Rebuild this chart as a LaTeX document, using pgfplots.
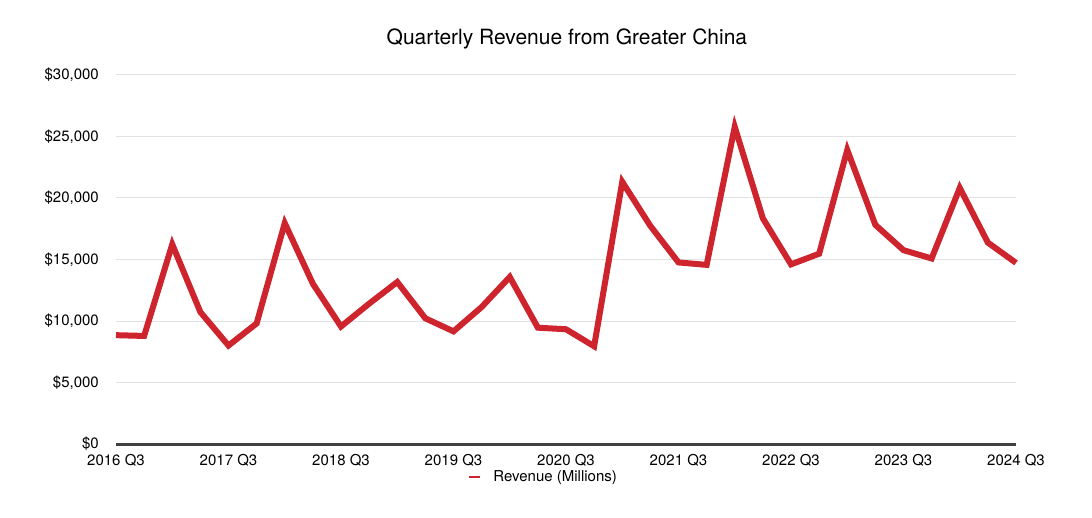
\documentclass[border=0pt]{standalone}
\usepackage{fontspec}
\setmainfont{TeX Gyre Heros}
\usepackage{pgfplots}
\pgfplotsset{compat=1.18}
\definecolor{revred}{RGB}{206,36,46}
\definecolor{gridgray}{RGB}{226,226,226}
\definecolor{axisgray}{RGB}{64,64,64}
\begin{document}
\begin{tikzpicture}[x=1pt,y=1pt]
\useasboundingbox (0,0) rectangle (1092,517);
\begin{axis}[
  at={(116pt,73pt)}, anchor=south west,
  scale only axis, width=900pt, height=369pt,
  xmin=0, xmax=32, ymin=0, ymax=30000,
  scaled y ticks=false,
  axis x line*=bottom, axis y line*=left,
  x axis line style={-, draw=axisgray, line width=3pt},
  y axis line style={draw=none},
  ymajorgrids, grid style={gridgray, line width=1pt},
  major tick length=0pt,
  xtick={0,4,...,32},
  xticklabels={2016 Q3,2017 Q3,2018 Q3,2019 Q3,2020 Q3,2021 Q3,2022 Q3,2023 Q3,2024 Q3},
  ytick={0,5000,...,30000},
  yticklabels={{\$0},{\$5,000},{\$10,000},{\$15,000},{\$20,000},{\$25,000},{\$30,000}},
  ticklabel style={font=\fontsize{15}{18}\selectfont, inner sep=0pt},
  xticklabel style={anchor=north, yshift=-10pt},
  yticklabel style={anchor=east, xshift=-17pt},
  title={Quarterly Revenue from Greater China},
  title style={font=\fontsize{21}{25}\selectfont, at={(axis description cs:0.501,1)}, anchor=center, yshift=30pt},
  legend style={at={(axis description cs:0.475,-0.0894)}, anchor=center, draw=none, fill=none,
    font=\fontsize{15}{18}\selectfont, inner sep=0pt},
  legend image code/.code={\draw[revred, line width=2.5pt] (0pt,0pt) -- (11pt,0pt);\path (19pt,0pt);},
  clip=false,
]
\addplot[revred, line width=6pt] coordinates {
(0,8848) (1,8785) (2,16233) (3,10726) (4,8004) (5,9801) (6,17956) (7,13024)
(8,9551) (9,11411) (10,13169) (11,10218) (12,9157) (13,11134) (14,13578) (15,9455)
(16,9329) (17,7946) (18,21313) (19,17728) (20,14762) (21,14563) (22,25783) (23,18343)
(24,14604) (25,15470) (26,23905) (27,17812) (28,15758) (29,15084) (30,20819) (31,16372)
(32,14728)
};
\addlegendentry{Revenue (Millions)}
\end{axis}
\end{tikzpicture}
\end{document}
